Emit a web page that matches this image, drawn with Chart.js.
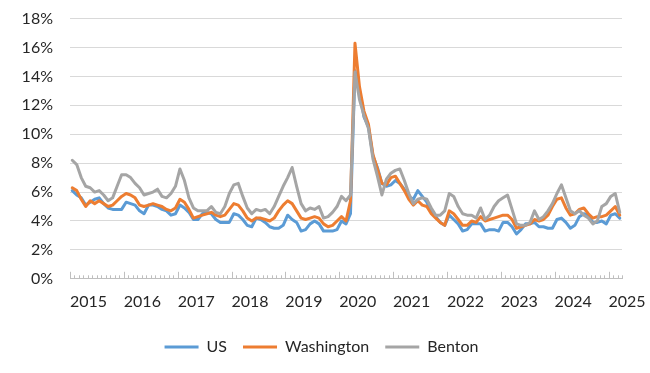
<!DOCTYPE html>
<html>
<head>
<meta charset="utf-8">
<script src="https://cdn.jsdelivr.net/npm/chart.js@4.4.1/dist/chart.umd.min.js"></script>
<style>
  html, body { margin: 0; padding: 0; background: #fff; }
</style>
</head>
<body>
<canvas id="grafico" width="650" height="373"></canvas>
<script>
// Datos mensuales (ene 2015 - mar 2025), tasa de desempleo en %
const anios = ['2015', '2016', '2017', '2018', '2019', '2020', '2021', '2022', '2023', '2024', '2025'];
const ticksY = [0, 2, 4, 6, 8, 10, 12, 14, 16, 18];
const series = ['US', 'Washington', 'Benton'];

const usDatos = [
  6.1, 5.8, 5.6, 5.1, 5.3, 5.5, 5.6, 5.2, 4.9, 4.8, 4.8, 4.8,
  5.3, 5.2, 5.1, 4.7, 4.5, 5.1, 5.1, 5.0, 4.8, 4.7, 4.4, 4.5,
  5.1, 4.9, 4.6, 4.1, 4.1, 4.5, 4.6, 4.5, 4.1, 3.9, 3.9, 3.9,
  4.5, 4.4, 4.1, 3.7, 3.6, 4.2, 4.1, 3.9, 3.6, 3.5, 3.5, 3.7,
  4.4, 4.1, 3.9, 3.3, 3.4, 3.8, 4.0, 3.8, 3.3, 3.3, 3.3, 3.4,
  4.0, 3.8, 4.5, 14.4, 13.0, 11.2, 10.5, 8.5, 7.7, 6.6, 6.4, 6.5,
  6.8, 6.6, 6.2, 5.7, 5.5, 6.1, 5.7, 5.3, 4.6, 4.3, 3.9, 3.7,
  4.4, 4.1, 3.8, 3.3, 3.4, 3.8, 3.8, 3.8, 3.3, 3.4, 3.4, 3.3,
  3.9, 3.9, 3.6, 3.1, 3.4, 3.8, 3.8, 3.9, 3.6, 3.6, 3.5, 3.5,
  4.1, 4.2, 3.9, 3.5, 3.7, 4.3, 4.5, 4.4, 3.9, 3.9, 4.0, 3.8,
  4.4, 4.5, 4.2
];

const waDatos = [
  6.3, 6.1, 5.5, 5.0, 5.4, 5.2, 5.4, 5.2, 5.0, 5.1, 5.4, 5.7,
  5.9, 5.8, 5.6, 5.1, 5.0, 5.1, 5.2, 5.1, 5.0, 4.8, 4.7, 4.9,
  5.5, 5.3, 4.8, 4.2, 4.3, 4.4, 4.5, 4.6, 4.4, 4.3, 4.4, 4.8,
  5.2, 5.1, 4.7, 4.2, 4.0, 4.2, 4.2, 4.1, 4.0, 4.2, 4.7, 5.1,
  5.4, 5.2, 4.7, 4.2, 4.1, 4.2, 4.3, 4.2, 3.8, 3.6, 3.7, 4.0,
  4.3, 4.0, 5.4, 16.3, 13.3, 11.6, 10.7, 8.6, 7.6, 6.6, 6.5, 7.0,
  7.1, 6.6, 6.1, 5.5, 5.1, 5.4, 5.1, 5.0, 4.5, 4.2, 3.9, 3.7,
  4.7, 4.5, 4.1, 3.7, 3.7, 4.0, 3.9, 4.3, 4.0, 4.1, 4.2, 4.3,
  4.4, 4.4, 4.1, 3.5, 3.6, 3.7, 3.8, 4.1, 4.0, 4.1, 4.4, 5.0,
  5.5, 5.6, 4.9, 4.4, 4.5, 4.8, 4.9, 4.5, 4.2, 4.3, 4.3, 4.4,
  4.7, 5.0, 4.4
];

const bentonDatos = [
  8.2, 7.9, 7.0, 6.4, 6.3, 6.0, 6.1, 5.8, 5.4, 5.6, 6.4, 7.2,
  7.2, 7.0, 6.6, 6.3, 5.8, 5.9, 6.0, 6.2, 5.7, 5.6, 5.9, 6.4,
  7.6, 6.8, 5.6, 4.9, 4.7, 4.7, 4.7, 5.0, 4.6, 4.5, 5.0, 5.9,
  6.5, 6.6, 5.7, 4.9, 4.5, 4.8, 4.7, 4.8, 4.5, 5.0, 5.7, 6.4,
  7.0, 7.7, 6.4, 5.2, 4.7, 4.9, 4.8, 5.0, 4.2, 4.3, 4.6, 5.0,
  5.7, 5.4, 5.8, 14.3, 12.4, 11.3, 10.4, 8.3, 7.1, 5.8, 6.9, 7.3,
  7.5, 7.6, 6.8, 5.9, 5.2, 5.5, 5.6, 5.5, 4.9, 4.4, 4.4, 4.7,
  5.9, 5.7, 5.0, 4.5, 4.4, 4.4, 4.2, 4.9, 4.1, 4.4, 5.0, 5.4,
  5.6, 5.8, 4.8, 3.8, 3.7, 3.7, 3.9, 4.7, 4.1, 4.3, 4.7, 5.2,
  5.9, 6.5, 5.6, 4.7, 4.5, 4.7, 4.4, 4.2, 3.8, 4.0, 5.0, 5.2,
  5.7, 5.9, 4.6
];

const colores = ['#5B9BD5', '#ED7D31', '#A5A5A5'];
const totalMeses = usDatos.length;

// cada mes ocupa una unidad; el punto va al centro del mes
function aPuntos(datos) {
  return datos.map((v, i) => ({ x: i + 0.5, y: v }));
}

// marcas pequeñas por mes y grandes por año, hacia adentro del gráfico
const marcasMes = {
  id: 'marcasMes',
  beforeDatasetsDraw(chart) {
    const { ctx, chartArea, scales: { x } } = chart;
    ctx.save();
    ctx.strokeStyle = '#bfbfbf';
    ctx.lineWidth = 1;
    ctx.beginPath();
    for (let m = 0; m <= totalMeses; m++) {
      const px = Math.round(x.getPixelForValue(m)) + 0.5;
      const largo = m % 12 === 0 ? 7 : 3.5;
      ctx.moveTo(px, chartArea.bottom);
      ctx.lineTo(px, chartArea.bottom - largo);
    }
    ctx.stroke();
    ctx.restore();
  }
};

const fuente = { family: 'Lato', size: 16 };
const colorTexto = '#262626';
const invisible = 'rgba(0,0,0,0)';

const ctx = document.getElementById('grafico').getContext('2d');
const myChart = new Chart(ctx, {
  type: 'line',
  data: {
    datasets: [usDatos, waDatos, bentonDatos].map((datos, k) => ({
      label: series[k],
      data: aPuntos(datos),
      borderColor: colores[k],
      backgroundColor: colores[k],
      borderWidth: 3,
      borderCapStyle: 'round',
      borderJoinStyle: 'round',
      pointRadius: 0,
      tension: 0,
      order: 3 - k
    }))
  },
  options: {
    responsive: false,
    animation: false,
    layout: { padding: { left: 21, right: 28, top: 10, bottom: 8 } },
    plugins: {
      legend: {
        position: 'bottom',
        labels: {
          usePointStyle: true,
          pointStyle: 'line',
          pointStyleWidth: 34,
          padding: 16,
          color: colorTexto,
          font: fuente,
          sort: (a, b) => a.datasetIndex - b.datasetIndex
        }
      },
      tooltip: { enabled: false }
    },
    scales: {
      x: {
        type: 'linear',
        min: 0,
        max: totalMeses,
        grid: { display: true, drawOnChartArea: false, drawTicks: true, tickLength: 13, tickColor: invisible },
        border: { display: true, color: '#bfbfbf', width: 1 },
        ticks: {
          stepSize: 12,
          includeBounds: false,
          autoSkip: false,
          maxRotation: 0,
          padding: 0,
          labelOffset: 18.5,
          color: colorTexto,
          font: fuente,
          callback: v => anios[v / 12] || ''
        },
        afterFit: s => { s.height += 12; }
      },
      y: {
        min: 0,
        max: 18,
        grid: { color: '#d9d9d9', lineWidth: 1, drawTicks: true, tickLength: 8, tickColor: invisible },
        border: { display: false },
        afterBuildTicks: s => { s.ticks = ticksY.map(v => ({ value: v })); },
        afterFit: s => { s.width = 49; },
        ticks: {
          padding: 9,
          color: colorTexto,
          font: fuente,
          callback: v => v + '%'
        }
      }
    }
  },
  plugins: [marcasMes]
});
</script>
</body>
</html>
